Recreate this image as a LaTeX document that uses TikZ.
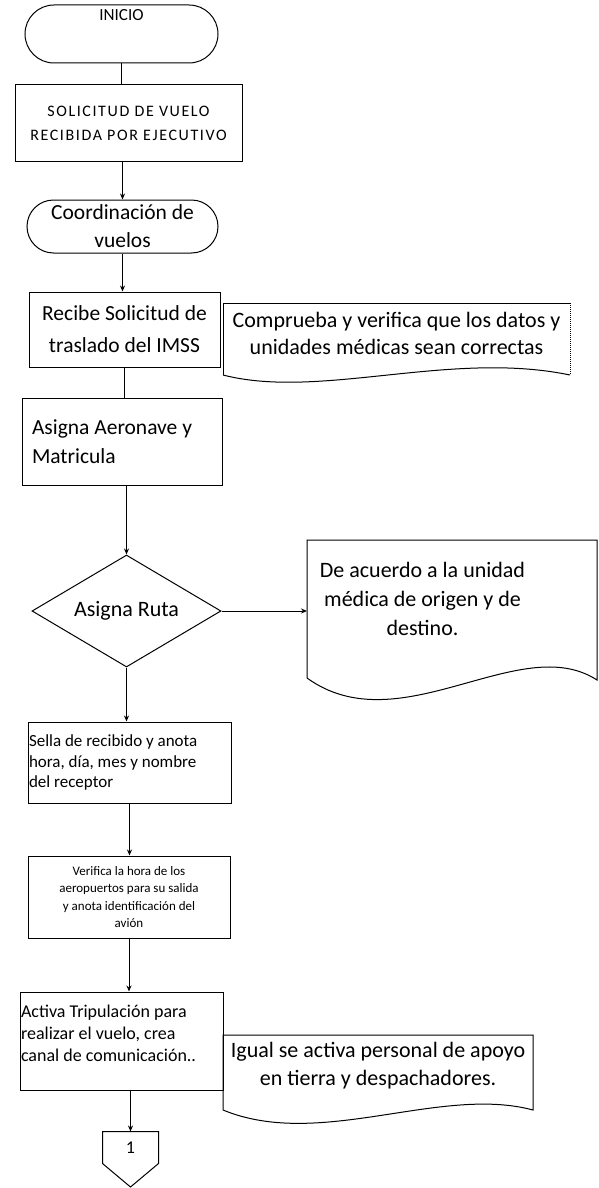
\documentclass[tikz,border=0pt]{standalone}
\usepackage{fontspec}
\setmainfont{Carlito}
\usetikzlibrary{arrows.meta,shapes.geometric,shapes.misc}

\begin{document}
\begin{tikzpicture}[>={Stealth[length=6pt,width=5pt]}, x=1pt, y=-1pt, line width=1pt,
    every node/.style={inner sep=0pt},
    proc/.style={draw, rectangle},
    term/.style={draw, rounded rectangle},
    decision/.style={draw, diamond, aspect=1.7}]
    \useasboundingbox (0,0) rectangle (598,1188);
            \node[term, minimum width=193pt, minimum height=58pt, align=center, font=\fontsize{17}{30}\selectfont] (inicio) at (121.5,34) {INICIO\\\strut};
            \node[proc, minimum width=227pt, minimum height=76pt, align=center, font=\fontsize{16}{24}\selectfont\addfontfeature{LetterSpace=10}] (solicitud) at (128.5,123) {SOLICITUD DE VUELO\\RECIBIDA POR EJECUTIVO};
            \node[term, minimum width=191pt, minimum height=53pt, align=center, font=\fontsize{21.5}{28}\selectfont] (coord) at (122.5,226.5) {Coordinación de\\vuelos};
            \node[proc, minimum width=191pt, minimum height=75pt, align=center, font=\fontsize{21.5}{32}\selectfont] (recibe) at (124.5,329.5) {Recibe Solicitud de\\traslado del IMSS};
            \node[align=center, font=\fontsize{22}{27}\selectfont] (comprueba) at (396.5,333.5) {Comprueba y verifica que los datos y\\unidades médicas sean correctas};
            \draw (223,375) -- (223,303) -- (570,303);
            \draw[densely dotted] (570,303) -- (570,375);
            \draw (570,375) .. controls (450,350) and (320,400) .. (223,375);
            \node[proc, minimum width=200pt, minimum height=87pt, text width=180pt, align=flush left, font=\fontsize{21.5}{29}\selectfont] (aeronave) at (122,441.5) {Asigna Aeronave y\\Matricula};
            \node[decision, minimum width=189pt, minimum height=112pt, font=\fontsize{22}{24}\selectfont] (ruta) at (126.5,611) {Asigna Ruta};
            \node[anchor=west, minimum width=230pt, minimum height=118pt, align=center, font=\fontsize{22}{29}\selectfont] (acuerdo) at (307,599) {De acuerdo a la unidad\\médica de origen y de\\destino.};
            \draw (307,540) -- (597,540) -- (597,680) .. controls (520,630) and (400,745) .. (307,678) -- cycle;
            \node[proc, minimum width=203pt, minimum height=81pt, text width=201pt, align=flush left, font=\fontsize{17}{20.5}\selectfont] (sello) at (129.5,762.5) {Sella de recibido y anota\\hora, día, mes y nombre\\del receptor};
            \node[proc, minimum width=202pt, minimum height=82pt, align=center, font=\fontsize{13}{17.5}\selectfont] (verifica) at (129,897) {Verifica la hora de los\\aeropuertos para su salida\\y anota identificación del\\avión};
            \node[proc, minimum width=203pt, minimum height=98pt, text width=201pt, align=flush left, font=\fontsize{18}{22}\selectfont] (tripulacion) at (121.5,1041) {Activa Tripulación para\\realizar el vuelo, crea\\canal de comunicación..\\[-14pt]\strut};
            \node[align=center, font=\fontsize{22}{28}\selectfont] (igual) at (378,1066) {Igual se activa personal de apoyo\\en tierra y despachadores.};
            \draw (223,1110) -- (223,1035) -- (533,1035) -- (533,1110) .. controls (440,1085) and (320,1150) .. (223,1110);
            \node[minimum width=55pt, minimum height=31pt, font=\fontsize{18}{20}\selectfont] (pagina) at (130.5,1147.5) {1};
            \draw (pagina.north west) -- (pagina.north east) -- (pagina.south east) -- (130.5,1187) -- (pagina.south west) -- cycle;
            \draw (inicio.south) -- (inicio.south |- solicitud.north);
            \draw[->] (coord.north |- solicitud.south) -- (coord.north);
            \draw[->] (coord.south) -- (coord.south |- recibe.north);
            \draw (recibe.south) -- (recibe.south |- aeronave.north);
            \draw[->] (aeronave.south -| ruta.north) -- (ruta.north);
            \draw[->] (ruta.east) -- (ruta.east -| acuerdo.west);
            \draw[->] (ruta.south) -- (ruta.south |- sello.north);
            \draw[->] (sello.south) -- (sello.south |- verifica.north);
            \draw[->] (verifica.south) -- (verifica.south |- tripulacion.north);
            \draw[->] (tripulacion.south -| pagina.north) -- (pagina.north);
        \end{tikzpicture}
\end{document}
